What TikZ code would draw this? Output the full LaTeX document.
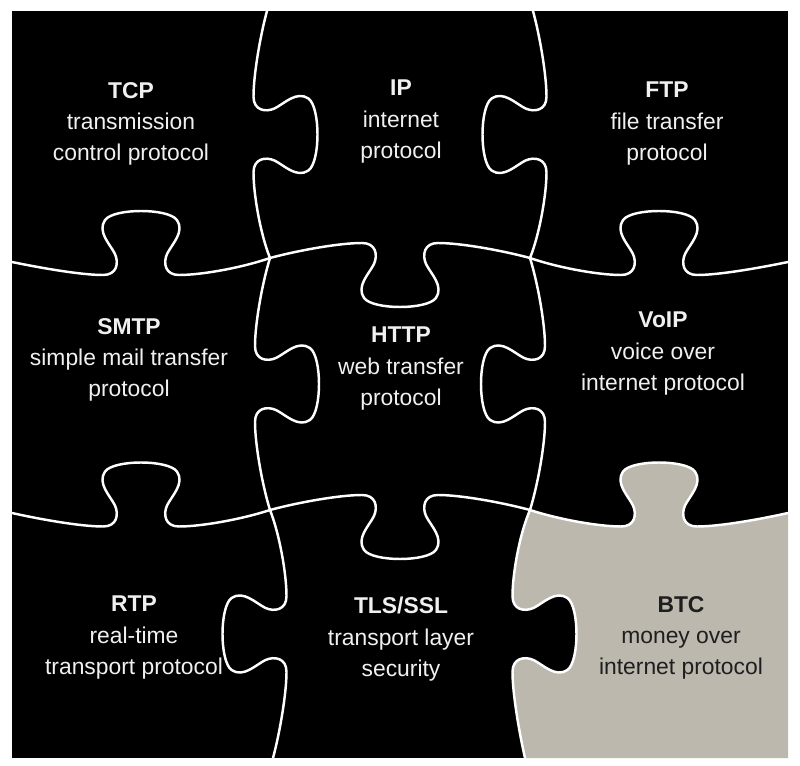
\documentclass[tikz,border=0pt]{standalone}
\usepackage{fontspec}
\setmainfont{Liberation Sans}

\definecolor{btcgrey}{RGB}{188,184,174}
\definecolor{inkwhite}{RGB}{240,240,240}
\definecolor{inkdark}{RGB}{30,30,30}

\newcommand\piecefont{\fontsize{19.5}{26.8}\selectfont}

% one seam with its tab: centre x, centre y, tab side, direction, end point
\newcommand\hseam[5]{%
  .. controls ({#1-(#4)*100},{#2-(#3)*8}) and ({#1-(#4)*60},{#2-(#3)*15}) .. ({#1-(#4)*38},{#2-(#3)*15})
  .. controls ({#1-(#4)*24},{#2-(#3)*15}) and ({#1-(#4)*22},{#2-(#3)*3}) .. ({#1-(#4)*26},{#2+(#3)*6})
  .. controls ({#1-(#4)*31},{#2+(#3)*16}) and ({#1-(#4)*44},{#2+(#3)*28}) .. ({#1-(#4)*36},{#2+(#3)*40})
  .. controls ({#1-(#4)*27},{#2+(#3)*52}) and ({#1+(#4)*27},{#2+(#3)*52}) .. ({#1+(#4)*36},{#2+(#3)*40})
  .. controls ({#1+(#4)*44},{#2+(#3)*28}) and ({#1+(#4)*31},{#2+(#3)*16}) .. ({#1+(#4)*26},{#2+(#3)*6})
  .. controls ({#1+(#4)*22},{#2-(#3)*3}) and ({#1+(#4)*24},{#2-(#3)*15}) .. ({#1+(#4)*38},{#2-(#3)*15})
  .. controls ({#1+(#4)*60},{#2-(#3)*15}) and ({#1+(#4)*100},{#2-(#3)*8}) .. #5}
\newcommand\vseam[5]{%
  .. controls ({#1-(#3)*8},{#2-(#4)*100}) and ({#1-(#3)*15},{#2-(#4)*60}) .. ({#1-(#3)*15},{#2-(#4)*38})
  .. controls ({#1-(#3)*15},{#2-(#4)*24}) and ({#1-(#3)*3},{#2-(#4)*22}) .. ({#1+(#3)*6},{#2-(#4)*26})
  .. controls ({#1+(#3)*16},{#2-(#4)*31}) and ({#1+(#3)*28},{#2-(#4)*44}) .. ({#1+(#3)*40},{#2-(#4)*36})
  .. controls ({#1+(#3)*52},{#2-(#4)*27}) and ({#1+(#3)*52},{#2+(#4)*27}) .. ({#1+(#3)*40},{#2+(#4)*36})
  .. controls ({#1+(#3)*28},{#2+(#4)*44}) and ({#1+(#3)*16},{#2+(#4)*31}) .. ({#1+(#3)*6},{#2+(#4)*26})
  .. controls ({#1-(#3)*3},{#2+(#4)*22}) and ({#1-(#3)*15},{#2+(#4)*24}) .. ({#1-(#3)*15},{#2+(#4)*38})
  .. controls ({#1-(#3)*15},{#2+(#4)*60}) and ({#1-(#3)*8},{#2+(#4)*100}) .. #5}

\tikzset{
  seam/.style={draw=white, line width=2.1pt, line cap=round, line join=round},
  piecetext/.style={text=inkwhite, align=center, anchor=north, inner sep=0pt, font=\piecefont},
}

\begin{document}
\begin{tikzpicture}[x=0.03cm, y=-0.03cm]

\useasboundingbox (0,0) rectangle (800,766);
\fill[white] (0,0) rectangle (800,766);

% Board
\fill[black] (12,11) rectangle (788,758);

% Seam end points and crossings
\coordinate (t1) at (267,11);
\coordinate (t2) at (533,11);
\coordinate (b1) at (273,758);
\coordinate (b2) at (525,758);
\coordinate (l1) at (12,262);
\coordinate (l2) at (12,513);
\coordinate (r1) at (788,262);
\coordinate (r2) at (788,513);
\coordinate (x11) at (270,258);
\coordinate (x12) at (530,258);
\coordinate (x21) at (270,510);
\coordinate (x22) at (530,510);

% Grey piece (BTC)
\fill[btcgrey] (x22) \hseam{659}{511.5}{-1}{1}{(r2)} -- (788,758) -- (b2)
  \vseam{527.5}{634}{1}{-1}{(x22)} -- cycle;

% Horizontal seams
\draw[seam] (l1) \hseam{141}{260}{-1}{1}{(x11)};
\draw[seam] (x11) \hseam{400}{258}{1}{1}{(x12)};
\draw[seam] (x12) \hseam{659}{260}{-1}{1}{(r1)};
\draw[seam] (l2) \hseam{141}{511.5}{-1}{1}{(x21)};
\draw[seam] (x21) \hseam{400}{510}{1}{1}{(x22)};
\draw[seam] (x22) \hseam{659}{511.5}{-1}{1}{(r2)};

% Vertical seams
\draw[seam] (t1) \vseam{268.5}{134.5}{1}{1}{(x11)};
\draw[seam] (x11) \vseam{270}{384}{1}{1}{(x21)};
\draw[seam] (x21) \vseam{271.5}{634}{-1}{1}{(b1)};
\draw[seam] (t2) \vseam{531.5}{134.5}{-1}{1}{(x12)};
\draw[seam] (x12) \vseam{530}{384}{-1}{1}{(x22)};
\draw[seam] (x22) \vseam{527.5}{634}{1}{1}{(b2)};

% Piece texts
\node[piecetext] (tcp) at (131,82) {\textbf{TCP}\\transmission\\control protocol};
\node[piecetext] (ip) at (401,80) {\textbf{IP}\\internet\\protocol};
\node[piecetext] (ftp) at (667,82) {\textbf{FTP}\\file transfer\\protocol};
\node[piecetext] (smtp) at (129,318) {\textbf{SMTP}\\simple mail transfer\\protocol};
\node[piecetext] (http) at (401,327) {\textbf{HTTP}\\web transfer\\protocol};
\node[piecetext] (voip) at (663,312) {\textbf{VoIP}\\voice over\\internet protocol};
\node[piecetext] (rtp) at (134,596) {\textbf{RTP}\\real-time\\transport protocol};
\node[piecetext] (tls) at (401,597) {\textbf{TLS/SSL}\\transport layer\\security};
\node[piecetext, text=inkdark] (btc) at (681,596) {\textbf{BTC}\\money over\\internet protocol};

\end{tikzpicture}
\end{document}
